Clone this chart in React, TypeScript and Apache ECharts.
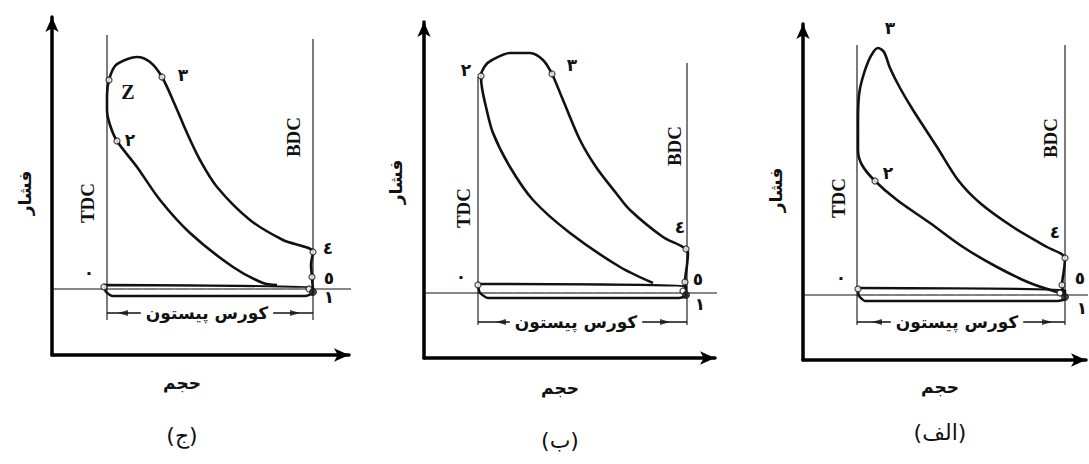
import React, { useEffect, useRef } from "react";
import * as echarts from "echarts";

// ---------- DATA (volume units, pressure units) ----------
// Panel (ج)
const jimCycle: number[][] = [
  [225, 70], [211, 72], [181, 88], [138, 122], [108, 155], [85, 188], [65, 214], [58, 230], [55, 245], [55, 260],
  [57, 275], [63, 289], [73, 295], [85, 298], [98, 293], [110, 278], [123, 250], [135, 222], [148, 195],
  [165, 168], [198, 135], [231, 115], [261, 103], [259, 90], [260, 78], [261, 63],
];
const jimLoop: number[][] = [[52, 70], [261, 68], [261, 62], [253, 59], [60, 59], [54, 63], [52, 69]];
const jimMarkers: number[][] = [[57, 275], [110, 278], [65, 214], [261, 103], [260, 78], [52, 68], [257, 66]];
const jimFilled: number[][] = [[261, 63]];
const jimStroke = { tdc: 55, bdc: 261, tdcTop: 320, bdcTop: 316, base: 35, atm: 66, atmFrom: -22, atmTo: 299, course: 42, arrowL: 71, arrowR: 243 };

// Panel (ب)
const beCycle: number[][] = [
  [229, 75], [196, 91], [146, 125], [109, 158], [86, 191], [69, 225], [62, 251], [58, 270], [57, 282],
  [61, 292], [68, 298], [86, 305], [106, 305], [119, 298], [128, 284], [139, 258], [156, 218], [172, 191],
  [192, 165], [206, 148], [239, 121], [259, 111], [264, 105], [263, 93], [261, 76], [262, 63],
];
const beLoop: number[][] = [[54, 74], [262, 72], [262, 62], [255, 60], [64, 60], [56, 65], [54, 72]];
const beMarkers: number[][] = [[57, 282], [128, 284], [262, 109], [261, 76], [54, 73], [259, 67]];
const beFilled: number[][] = [[262, 63]];
const beStroke = { tdc: 54, bdc: 263, tdcTop: 281, bdcTop: 295, base: 33, atm: 65, atmFrom: -21, atmTo: 302, course: 36, arrowL: 77, arrowR: 241 };

// Panel (الف)
const alefCycle: number[][] = [
  [254, 68], [227, 77], [194, 93], [160, 113], [127, 137], [94, 160], [72, 179], [59, 195], [55, 210],
  [55, 240], [56, 265], [59, 280], [65, 298], [71, 309], [75, 312], [81, 308], [87, 292], [97, 272],
  [110, 250], [134, 213], [155, 180], [177, 157], [210, 133], [244, 113], [262, 102], [261, 90],
  [259, 75], [262, 63],
];
const alefLoop: number[][] = [[55, 72], [262, 70], [262, 61], [255, 59], [62, 59], [56, 64], [55, 70]];
const alefMarkers: number[][] = [[72, 179], [262, 102], [259, 75], [55, 71], [257, 67]];
const alefFilled: number[][] = [[262, 63]];
const alefStroke = { tdc: 54, bdc: 262, tdcTop: 315, bdcTop: 315, base: 35, atm: 65, atmFrom: -20, atmTo: 286, course: 38, arrowL: 74, arrowR: 244 };

const panelTitles = ["(ج)", "(ب)", "(الف)"];

// ---------- LAYOUT ----------
const GRIDS = [
  { left: 52, top: 17, width: 297, height: 338 },
  { left: 424, top: 22, width: 291, height: 336 },
  { left: 803, top: 24, width: 283, height: 336 },
];

const SERIF = "'Liberation Serif', 'DejaVu Serif', serif";
const ARAB = "'DejaVu Sans', sans-serif";

type Lbl = { t: string; x: number; y: number; kind: string };
const LABELS: Lbl[][] = [
  [
    { t: "٣", x: 183, y: 75, kind: "num" }, { t: "Z", x: 128, y: 92, kind: "z" }, { t: "٢", x: 130, y: 140, kind: "num" },
    { t: "٤", x: 328, y: 248, kind: "num" }, { t: "٥", x: 329, y: 278, kind: "num" }, { t: "١", x: 329, y: 297, kind: "num" },
    { t: "٠", x: 89, y: 272, kind: "num" }, { t: "TDC", x: 87, y: 203, kind: "dc" }, { t: "BDC", x: 293, y: 137, kind: "dc" },
    { t: "فشار", x: 25, y: 193, kind: "vert" }, { t: "کورس پیستون", x: 207, y: 313, kind: "course" },
    { t: "حجم", x: 182, y: 383, kind: "fa" }, { t: panelTitles[0], x: 182, y: 435, kind: "title" },
  ],
  [
    { t: "٢", x: 466, y: 70, kind: "num" }, { t: "٣", x: 572, y: 65, kind: "num" },
    { t: "٤", x: 680, y: 227, kind: "num" }, { t: "٥", x: 698, y: 279, kind: "num" }, { t: "١", x: 700, y: 304, kind: "num" },
    { t: "٠", x: 461, y: 276, kind: "num" }, { t: "TDC", x: 463, y: 208, kind: "dc" }, { t: "BDC", x: 674, y: 146, kind: "dc" },
    { t: "فشار", x: 396, y: 182, kind: "vert" }, { t: "کورس پیستون", x: 576, y: 322, kind: "course" },
    { t: "حجم", x: 560, y: 388, kind: "fa" }, { t: panelTitles[1], x: 560, y: 440, kind: "title" },
  ],
  [
    { t: "٣", x: 890, y: 28, kind: "num" }, { t: "٢", x: 888, y: 173, kind: "num" },
    { t: "٤", x: 1055, y: 232, kind: "num" }, { t: "٥", x: 1080, y: 278, kind: "num" }, { t: "١", x: 1082, y: 308, kind: "num" },
    { t: "٠", x: 841, y: 277, kind: "num" }, { t: "TDC", x: 838, y: 198, kind: "dc" }, { t: "BDC", x: 1050, y: 138, kind: "dc" },
    { t: "فشار", x: 776, y: 190, kind: "vert" }, { t: "کورس پیستون", x: 957, y: 322, kind: "course" },
    { t: "حجم", x: 940, y: 387, kind: "fa" }, { t: panelTitles[2], x: 940, y: 432, kind: "title" },
  ],
];

function textEl(l: Lbl) {
  const base: any = {
    type: "text",
    x: l.x,
    y: l.y,
    z: 100,
    style: { text: l.t, fill: "#111", align: "center", verticalAlign: "middle" },
  };
  if (l.kind === "num") base.style.font = `bold 17px ${ARAB}`;
  if (l.kind === "z") base.style.font = `bold 20px ${SERIF}`;
  if (l.kind === "dc") { base.style.font = `bold 19px ${SERIF}`; base.rotation = Math.PI / 2; }
  if (l.kind === "vert") { base.style.font = `bold 17px ${ARAB}`; base.rotation = Math.PI / 2; }
  if (l.kind === "course") { base.style.font = `bold 17px ${ARAB}`; base.style.backgroundColor = "#fff"; base.style.padding = [0, 5]; }
  if (l.kind === "fa") base.style.font = `bold 17px ${ARAB}`;
  if (l.kind === "title") base.style.font = `22px ${ARAB}`;
  return base;
}

function panelSeries(i: number, cycle: number[][], loop: number[][], markers: number[][], filled: number[][], s: any) {
  const ax = { xAxisIndex: i, yAxisIndex: i };
  const thin = { color: "#111", width: 1.1 };
  return [
    { ...ax, type: "line", data: cycle, smooth: 0.3, symbol: "none", clip: false, lineStyle: { color: "#111", width: 2.6 }, z: 5 },
    { ...ax, type: "line", data: loop, smooth: 0.15, symbol: "none", clip: false, lineStyle: { color: "#111", width: 2.4 }, z: 5 },
    { ...ax, type: "line", data: [[s.tdc, s.base], [s.tdc, s.tdcTop]], symbol: "none", clip: false, lineStyle: thin },
    { ...ax, type: "line", data: [[s.bdc, s.base], [s.bdc, s.bdcTop]], symbol: "none", clip: false, lineStyle: thin },
    { ...ax, type: "line", data: [[s.atmFrom, s.atm], [s.atmTo, s.atm]], symbol: "none", clip: false, lineStyle: thin },
    { ...ax, type: "line", data: [[s.tdc, s.course], [s.bdc, s.course]], symbol: "none", clip: false, lineStyle: { color: "#111", width: 1.3 } },
    { ...ax, type: "line", data: [[s.tdc + 6, s.atm], [s.bdc - 6, s.atm]], symbol: "none", clip: false, lineStyle: { color: "#777", width: 1.2, type: [10, 6] }, z: 6 },
    {
      ...ax, type: "scatter", data: [[s.arrowL, s.course]], symbol: "triangle", symbolSize: [6, 10], symbolRotate: 90,
      itemStyle: { color: "#111" }, z: 7,
    },
    {
      ...ax, type: "scatter", data: [[s.arrowR, s.course]], symbol: "triangle", symbolSize: [6, 10], symbolRotate: -90,
      itemStyle: { color: "#111" }, z: 7,
    },
    {
      ...ax, type: "scatter", data: markers, symbol: "circle", symbolSize: 6,
      itemStyle: { color: "#fff", borderColor: "#111", borderWidth: 1.2 }, z: 8,
    },
    {
      ...ax, type: "scatter", data: filled, symbol: "circle", symbolSize: 7,
      itemStyle: { color: "#222", borderColor: "#111", borderWidth: 1 }, z: 8,
    },
  ];
}

export default function App() {
  const ref = useRef<HTMLDivElement>(null);
  useEffect(() => {
    if (!ref.current) return;
    const chart = echarts.init(ref.current, null, { renderer: "svg" });
    const axisLine = {
      show: true,
      symbol: ["none", "arrow"],
      symbolSize: [10, 15],
      lineStyle: { color: "#000", width: 3.5 },
    };
    const hidden = { axisTick: { show: false }, axisLabel: { show: false }, splitLine: { show: false } };
    const option: any = {
      animation: false,
      backgroundColor: "#fff",
      grid: GRIDS.map((g) => ({ ...g, containLabel: false })),
      xAxis: GRIDS.map((g, i) => ({ type: "value", gridIndex: i, min: 0, max: g.width, axisLine, ...hidden })),
      yAxis: GRIDS.map((g, i) => ({ type: "value", gridIndex: i, min: 0, max: g.height, axisLine, ...hidden })),
      series: [
        ...panelSeries(0, jimCycle, jimLoop, jimMarkers, jimFilled, jimStroke),
        ...panelSeries(1, beCycle, beLoop, beMarkers, beFilled, beStroke),
        ...panelSeries(2, alefCycle, alefLoop, alefMarkers, alefFilled, alefStroke),
      ],
      graphic: LABELS.flat().map(textEl),
    };
    chart.setOption(option);
    return () => chart.dispose();
  }, []);
  return <div ref={ref} style={{ position: "fixed", left: 0, top: 0, width: 1089, height: 464, background: "#fff" }} />;
}
